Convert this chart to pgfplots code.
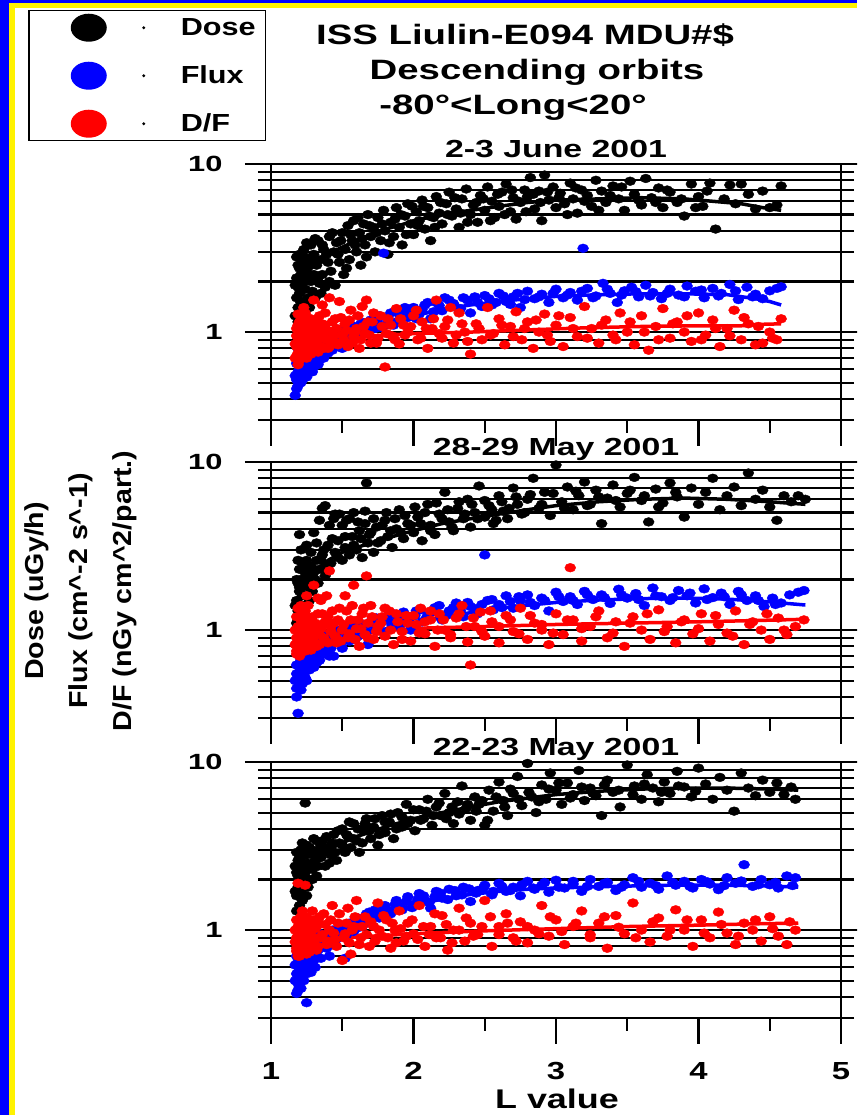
\documentclass[border=0pt]{standalone}
\usepackage{fontspec}
\usepackage{pgfplots}
\usepackage{pgfplotstable}
\pgfplotsset{compat=1.18}
\setmainfont{Liberation Sans}
\newfontfamily\fTitle{Liberation Sans}[FakeStretch=1.37]
\newfontfamily\fLeg{Liberation Sans}[FakeStretch=1.24]
\newfontfamily\fYtick{Liberation Sans}[FakeStretch=1.40]
\newfontfamily\fXtick{Liberation Sans}[FakeStretch=1.33]
\newfontfamily\fYlab{Liberation Sans}[FakeStretch=1.10]

% legend sample: large filled ellipse followed by a small dot
\newcommand\legblob[1]{%
  \path[draw=none] (-52pt,-17pt) rectangle (90pt,17pt);
  \fill[#1, draw=none] (0pt,0pt) ellipse [x radius=18pt, y radius=14pt];
  \fill[black, draw=none] (55pt,0pt) circle [radius=1.6pt];}

% ---------- 2-3 June 2001 ----------
\pgfplotstableread{
L v
1.17 1.25
1.18 1.6
1.18 2.1
1.19 1.4
1.19 1.85
1.19 2.5
1.20 1.2
1.20 1.7
1.20 2.9
1.21 2.2
1.21 1.5
1.22 1.95
1.22 2.6
1.23 1.35
1.23 3.1
1.24 1.8
1.24 2.35
1.25 1.55
1.25 2.75
1.26 2.05
1.27 1.4
1.27 2.5
1.28 3.3
1.29 1.75
1.30 2.2
1.30 2.9
1.31 1.6
1.32 2.5
1.33 3.5
1.34 1.95
1.35 2.7
1.36 2.2
1.37 3.1
1.38 1.85
1.40 2.6
1.41 3.7
1.42 2.3
1.44 3.0
1.45 1.9
1.46 3.4
1.48 2.6
1.50 3.9
1.51 2.2
1.52 3.1
1.54 4.3
1.55 2.7
1.57 3.5
1.58 4.6
1.60 3.0
1.62 3.9
1.63 2.5
1.65 4.4
1.66 3.3
1.68 5.0
1.70 3.7
1.72 4.2
1.73 3.0
1.75 4.8
1.77 3.5
1.79 5.3
1.80 4.0
1.82 2.9
1.84 4.5
1.86 3.7
1.88 5.5
1.90 4.2
1.92 3.3
1.94 4.9
1.96 5.8
1.98 4.4
2.00 3.8
2.02 5.2
2.04 4.6
2.06 6.1
2.08 4.1
2.10 5.5
2.12 3.5
2.14 4.8
2.16 6.4
2.18 5.1
2.20 4.4
2.23 5.8
2.25 6.8
2.27 4.9
2.30 5.4
2.32 4.2
2.34 6.2
2.37 7.1
2.40 5.0
2.42 5.7
2.45 4.5
2.47 6.5
2.50 5.3
2.52 7.3
2.55 6.0
2.57 4.8
2.60 5.6
2.62 6.8
2.65 7.6
2.68 5.2
2.70 6.3
2.72 4.7
2.75 5.9
2.78 7.0
2.80 6.4
2.82 8.3
2.85 5.4
2.88 6.9
2.90 4.6
2.92 8.6
2.95 6.1
2.98 7.3
3.00 5.5
3.03 6.7
3.06 5.8
3.10 7.7
3.12 6.2
3.15 5.1
3.18 7.0
3.22 6.5
3.25 5.6
3.28 8.0
3.32 6.9
3.35 5.9
3.40 7.4
3.44 6.2
3.48 5.3
3.52 7.9
3.55 6.6
3.60 5.7
3.63 8.2
3.67 6.3
3.72 7.2
3.75 5.5
3.80 6.8
3.85 5.9
3.90 4.9
3.95 7.6
4.00 6.4
4.03 5.6
4.08 7.7
4.12 4.1
4.18 6.2
4.22 7.5
4.26 5.8
4.30 7.6
4.35 6.6
4.40 5.4
4.45 6.9
4.50 5.5
4.55 5.7
4.58 7.4
1.17 1.9
1.18 2.8
1.19 1.15
1.20 2.4
1.21 1.3
1.22 2.9
1.23 2.2
1.24 1.25
1.25 3.4
1.26 1.6
1.28 2.0
1.29 2.7
1.31 3.6
1.33 2.1
1.35 1.7
1.36 3.3
1.39 2.9
1.41 2.0
1.43 3.9
1.47 2.9
1.49 3.5
1.53 2.4
1.56 3.8
1.59 3.3
1.61 4.8
1.64 3.6
1.67 2.8
1.69 4.3
1.74 3.9
1.78 4.4
1.83 3.4
1.87 4.7
1.91 5.0
1.95 3.8
1.99 5.6
2.03 4.3
2.07 5.6
2.11 4.9
2.15 4.2
2.19 5.9
2.24 5.0
2.29 6.3
2.33 5.1
2.38 4.5
2.44 5.9
2.49 6.2
2.54 4.6
2.59 6.6
2.64 5.0
2.69 7.0
2.74 6.0
2.79 5.2
2.84 6.6
2.89 5.9
2.94 6.8
3.02 6.3
3.08 5.0
3.14 7.2
3.20 6.0
3.30 5.3
3.38 6.5
3.46 7.3
3.58 6.1
3.70 5.9
3.78 7.0
3.88 6.2
3.98 5.5
4.06 6.9
}\juneDose

\pgfplotstableread{
L v
1.17 0.42
1.18 0.52
1.18 0.65
1.19 0.48
1.19 0.58
1.19 0.72
1.20 0.55
1.20 0.62
1.20 0.78
1.21 0.5
1.21 0.68
1.22 0.6
1.22 0.74
1.23 0.56
1.23 0.66
1.24 0.8
1.25 0.62
1.25 0.7
1.26 0.58
1.27 0.76
1.27 0.66
1.28 0.84
1.29 0.7
1.30 0.62
1.30 0.78
1.31 0.88
1.32 0.72
1.33 0.82
1.34 0.68
1.35 0.9
1.36 0.78
1.38 0.85
1.40 0.75
1.42 0.92
1.44 0.84
1.46 0.98
1.48 0.88
1.50 0.8
1.52 1.02
1.55 0.9
1.58 1.08
1.60 0.95
1.63 1.12
1.66 1.0
1.70 1.18
1.73 1.05
1.76 1.25
1.79 2.95
1.80 1.1
1.84 1.3
1.88 1.15
1.92 1.35
1.96 1.22
2.00 1.4
2.04 1.28
2.08 1.45
2.12 1.2
2.16 1.5
2.20 1.34
2.25 1.55
2.30 1.4
2.35 1.6
2.40 1.3
2.45 1.5
2.50 1.65
2.55 1.45
2.60 1.7
2.65 1.52
2.70 1.62
2.75 1.4
2.80 1.75
2.85 1.58
2.90 1.68
2.95 1.5
3.00 1.8
3.05 1.6
3.10 1.72
3.15 1.55
3.19 3.15
3.22 1.82
3.28 1.64
3.33 1.95
3.38 1.7
3.43 1.5
3.48 1.76
3.53 1.85
3.58 1.62
3.63 1.9
3.68 1.72
3.74 1.58
3.80 1.8
3.86 1.66
3.92 1.88
3.98 1.75
4.04 1.6
4.10 1.82
4.16 1.7
4.22 1.92
4.28 1.56
4.34 1.85
4.40 1.68
4.45 1.58
4.50 1.76
4.55 1.82
4.58 1.86
1.17 0.55
1.18 0.7
1.18 0.46
1.19 0.8
1.20 0.68
1.20 0.5
1.21 0.6
1.22 0.85
1.22 0.52
1.23 0.72
1.24 0.64
1.25 0.54
1.26 0.74
1.26 0.86
1.28 0.68
1.29 0.58
1.30 0.92
1.31 0.7
1.33 0.64
1.34 0.78
1.36 0.96
1.37 0.7
1.39 0.8
1.41 0.88
1.43 0.78
1.45 0.9
1.47 1.04
1.49 0.94
1.51 0.86
1.53 1.0
1.56 1.1
1.59 0.92
1.62 1.04
1.65 1.14
1.68 1.02
1.72 1.12
1.75 1.2
1.78 1.06
1.82 1.22
1.86 1.1
1.90 1.28
1.94 1.4
1.98 1.3
2.02 1.2
2.06 1.36
2.10 1.5
2.14 1.32
2.18 1.44
2.22 1.6
2.28 1.48
2.33 1.38
2.38 1.55
2.43 1.62
2.48 1.42
2.53 1.58
2.58 1.5
2.63 1.64
2.68 1.46
2.73 1.7
2.78 1.56
2.88 1.62
2.98 1.7
3.08 1.66
3.18 1.75
3.26 1.6
3.36 1.8
3.46 1.66
3.56 1.74
3.66 1.64
3.78 1.7
3.90 1.62
4.02 1.78
4.14 1.64
4.26 1.76
4.38 1.62
}\juneFlux

\pgfplotstableread{
L v
1.17 0.7
1.18 0.82
1.18 0.95
1.19 0.75
1.19 1.1
1.19 1.28
1.20 0.68
1.20 0.88
1.20 1.02
1.21 0.78
1.21 1.18
1.22 0.92
1.22 0.72
1.23 1.05
1.23 0.84
1.24 1.3
1.24 0.95
1.25 0.76
1.25 1.12
1.26 0.88
1.27 1.0
1.27 0.8
1.28 1.2
1.29 0.92
1.30 1.55
1.30 0.78
1.31 1.08
1.32 0.86
1.33 0.98
1.34 1.25
1.35 0.82
1.36 1.45
1.37 0.94
1.38 1.1
1.40 0.8
1.41 1.6
1.42 1.0
1.44 0.88
1.45 1.2
1.47 0.84
1.48 1.52
1.50 0.96
1.52 1.12
1.54 0.82
1.56 1.35
1.58 0.94
1.60 1.05
1.62 0.8
1.64 1.42
1.66 0.98
1.68 1.15
1.70 0.86
1.72 1.3
1.75 0.92
1.78 1.08
1.80 0.62
1.82 1.2
1.85 0.95
1.88 1.38
1.90 0.85
1.93 1.1
1.96 1.0
2.00 1.25
2.03 0.9
2.06 1.15
2.10 0.8
2.13 1.05
2.16 1.55
2.20 0.92
2.24 1.18
2.28 0.86
2.32 1.3
2.36 1.0
2.40 0.74
2.44 1.12
2.48 0.9
2.52 1.4
2.56 0.98
2.60 1.2
2.64 0.84
2.68 1.08
2.72 1.32
2.76 0.9
2.80 1.15
2.84 0.8
2.88 1.0
2.92 1.28
2.96 0.88
3.00 1.1
3.05 0.82
3.10 1.22
3.15 0.94
3.20 1.42
3.25 1.05
3.30 0.86
3.35 1.18
3.40 0.96
3.45 1.3
3.50 1.0
3.55 0.84
3.60 1.25
3.65 0.78
3.70 1.08
3.75 1.38
3.80 0.92
3.85 1.15
3.90 1.0
3.95 0.88
4.00 1.3
4.05 0.96
4.10 1.18
4.15 0.82
4.20 1.05
4.25 1.35
4.30 0.9
4.35 1.12
4.40 0.84
4.45 0.86
4.50 1.0
4.55 0.9
4.58 1.2
1.17 0.85
1.18 1.05
1.18 0.72
1.19 0.92
1.19 0.64
1.20 1.15
1.20 0.8
1.21 0.98
1.21 0.7
1.22 1.2
1.22 0.86
1.23 0.76
1.23 1.4
1.24 0.9
1.25 1.02
1.25 0.7
1.26 1.15
1.26 0.8
1.27 0.9
1.28 1.05
1.28 0.74
1.29 1.12
1.30 0.96
1.31 0.84
1.32 1.18
1.33 0.76
1.34 1.02
1.35 0.92
1.36 1.12
1.37 0.8
1.38 1.3
1.39 0.9
1.40 1.02
1.41 0.82
1.43 1.15
1.44 0.96
1.46 1.05
1.48 0.86
1.49 1.22
1.51 0.9
1.53 1.02
1.55 1.18
1.57 0.86
1.59 1.0
1.61 1.25
1.63 0.9
1.65 1.08
1.67 1.55
1.69 0.96
1.71 1.15
1.74 0.86
1.77 1.25
1.81 0.98
1.84 1.1
1.87 0.9
1.91 1.2
1.94 0.96
1.98 1.08
2.02 1.35
2.05 0.92
2.09 1.05
2.14 1.2
2.18 0.98
2.22 1.08
2.26 1.4
2.30 0.96
2.34 1.12
2.38 0.88
2.46 1.05
2.54 0.96
2.62 1.1
2.70 0.94
2.78 1.05
2.86 1.18
2.94 0.96
3.02 1.25
3.12 1.05
3.22 0.92
3.32 1.1
3.42 0.9
3.52 1.15
3.62 1.0
3.72 0.9
3.82 1.12
3.92 1.25
4.02 0.9
4.12 1.05
4.22 0.95
4.32 1.22
4.42 1.08
4.52 0.92
}\juneDF

% ---------- 28-29 May 2001 ----------
\pgfplotstableread{
L v
1.18 1.1
1.18 1.5
1.19 1.9
1.19 1.3
1.20 2.3
1.20 1.7
1.20 3.7
1.21 1.2
1.21 2.0
1.22 1.6
1.22 2.5
1.23 1.4
1.23 1.9
1.24 2.2
1.25 1.0
1.25 2.6
1.26 1.8
1.27 2.1
1.28 2.4
1.29 1.7
1.30 3.8
1.30 2.2
1.32 2.6
1.33 1.9
1.34 2.3
1.36 5.3
1.36 2.8
1.38 2.1
1.40 3.2
1.42 2.5
1.44 4.6
1.45 2.9
1.47 3.4
1.48 4.9
1.50 2.6
1.52 3.1
1.53 4.5
1.55 2.8
1.57 3.6
1.58 5.0
1.60 3.0
1.62 3.9
1.64 2.7
1.66 4.3
1.67 7.5
1.68 3.3
1.70 3.8
1.72 2.9
1.74 4.1
1.77 3.4
1.80 4.5
1.82 3.6
1.85 3.1
1.88 4.0
1.90 5.2
1.93 3.5
1.96 4.3
2.00 3.8
2.03 4.7
2.06 3.4
2.10 5.6
2.12 4.2
2.15 3.7
2.18 4.9
2.22 6.6
2.25 4.4
2.28 3.9
2.31 5.3
2.35 4.6
2.38 6.0
2.40 4.1
2.43 5.0
2.46 7.2
2.50 4.7
2.53 5.5
2.56 4.3
2.60 6.3
2.63 5.1
2.66 4.6
2.70 7.0
2.73 5.6
2.76 4.9
2.80 6.0
2.84 8.0
2.88 5.3
2.92 6.6
2.96 4.8
3.00 9.6
3.04 5.8
3.08 7.1
3.12 5.2
3.16 6.3
3.20 7.6
3.24 5.6
3.28 6.8
3.32 4.3
3.36 6.1
3.40 7.3
3.45 5.4
3.50 6.5
3.55 8.1
3.60 5.9
3.65 4.4
3.70 6.9
3.75 5.7
3.80 7.5
3.85 6.2
3.90 4.7
3.95 7.0
4.00 5.6
4.05 6.6
4.10 8.0
4.15 5.2
4.20 6.3
4.25 7.1
4.30 5.5
4.35 8.6
4.40 6.0
4.45 6.8
4.50 5.4
4.55 4.5
4.60 6.3
4.65 5.8
4.70 6.3
4.75 6.0
1.17 1.4
1.18 2.0
1.19 2.6
1.19 1.15
1.20 1.8
1.21 3.0
1.22 1.35
1.23 2.3
1.24 1.6
1.25 3.2
1.26 2.0
1.27 1.5
1.28 2.9
1.29 2.3
1.31 2.0
1.32 3.3
1.34 4.5
1.35 2.6
1.37 3.0
1.38 5.5
1.40 2.4
1.41 4.2
1.43 3.5
1.45 4.9
1.47 2.7
1.50 4.2
1.52 3.6
1.55 4.6
1.58 3.2
1.61 4.4
1.63 3.5
1.66 5.1
1.69 3.7
1.72 4.6
1.75 3.3
1.78 4.2
1.81 5.0
1.84 3.9
1.87 4.6
1.91 3.8
1.94 4.8
1.98 4.2
2.01 5.4
2.05 4.3
2.08 5.0
2.12 3.9
2.16 5.7
2.20 4.6
2.24 5.2
2.27 4.1
2.32 5.8
2.36 4.9
2.41 5.6
2.45 4.6
2.50 5.9
2.55 5.2
2.58 4.5
2.62 5.8
2.67 5.3
2.72 6.2
2.78 5.0
2.82 6.4
2.90 5.6
2.98 6.5
3.06 5.3
3.14 6.7
3.22 5.5
3.30 6.2
3.42 5.9
3.52 6.8
3.62 6.3
3.72 5.4
3.84 6.6
}\lateDose

\pgfplotstableread{
L v
1.18 0.45
1.18 0.55
1.19 0.32
1.19 0.62
1.20 0.5
1.20 0.7
1.21 0.58
1.21 0.44
1.22 0.66
1.22 0.78
1.23 0.54
1.23 0.72
1.24 0.6
1.25 0.85
1.25 0.5
1.26 0.68
1.27 0.76
1.28 0.62
1.29 0.9
1.30 0.7
1.31 0.8
1.32 0.64
1.33 0.88
1.35 0.74
1.37 0.95
1.39 0.8
1.41 0.7
1.43 0.92
1.45 0.84
1.48 1.0
1.50 0.78
1.53 0.94
1.56 1.05
1.59 0.88
1.62 1.1
1.65 0.96
1.68 0.82
1.71 1.08
1.74 1.18
1.78 0.98
1.82 1.14
1.86 1.25
1.90 1.05
1.94 1.2
1.98 1.0
2.02 1.3
2.06 1.12
2.10 1.22
2.15 1.36
2.20 1.15
2.25 1.3
2.30 1.45
2.35 1.2
2.40 1.38
2.45 1.25
2.50 2.8
2.52 1.5
2.56 1.32
2.60 1.42
2.65 1.6
2.70 1.35
2.75 1.5
2.80 1.62
2.85 1.4
2.90 1.55
2.95 1.3
3.00 1.68
3.05 1.48
3.10 1.58
3.15 1.42
3.20 1.7
3.26 1.52
3.32 1.62
3.38 1.44
3.44 1.75
3.50 1.55
3.56 1.65
3.62 1.4
3.68 1.78
3.74 1.58
3.80 1.5
3.86 1.72
3.92 1.6
3.98 1.45
4.04 1.76
4.10 1.56
4.16 1.66
4.22 1.42
4.28 1.7
4.34 1.5
4.40 1.6
4.46 1.38
4.52 1.55
4.58 1.45
4.64 1.62
4.70 1.68
4.74 1.72
1.17 0.5
1.18 0.62
1.18 0.4
1.19 0.52
1.19 0.72
1.20 0.6
1.20 0.46
1.21 0.66
1.22 0.55
1.22 0.48
1.23 0.64
1.24 0.72
1.24 0.52
1.25 0.6
1.26 0.78
1.27 0.58
1.28 0.7
1.29 0.66
1.30 0.6
1.31 0.72
1.33 0.78
1.34 0.66
1.36 0.84
1.38 0.72
1.40 0.88
1.42 0.78
1.44 0.7
1.46 0.9
1.49 0.84
1.52 0.98
1.55 0.86
1.58 1.0
1.61 0.92
1.64 1.04
1.67 0.98
1.70 1.12
1.74 1.02
1.77 1.1
1.81 1.2
1.85 1.06
1.89 1.16
1.93 1.28
1.97 1.12
2.01 1.22
2.05 1.32
2.09 1.18
2.13 1.28
2.18 1.4
2.23 1.22
2.28 1.36
2.33 1.3
2.38 1.46
2.43 1.34
2.48 1.42
2.55 1.52
2.62 1.36
2.68 1.48
2.74 1.58
2.82 1.46
2.92 1.5
3.02 1.58
3.12 1.5
3.22 1.62
3.34 1.56
3.46 1.62
3.58 1.52
3.70 1.6
3.82 1.56
3.94 1.66
4.06 1.52
4.18 1.58
4.30 1.62
4.42 1.5
4.54 1.42
}\lateFlux

\pgfplotstableread{
L v
1.18 0.75
1.18 0.9
1.19 1.05
1.19 0.8
1.20 1.2
1.20 0.7
1.21 0.95
1.21 1.4
1.22 0.85
1.22 1.1
1.23 0.78
1.23 1.0
1.24 1.3
1.25 0.88
1.25 1.6
1.26 1.02
1.27 0.82
1.28 1.15
1.29 0.92
1.30 1.85
1.31 1.0
1.32 0.8
1.33 1.25
1.34 0.94
1.35 1.5
1.36 1.08
1.38 0.86
1.40 1.2
1.41 2.25
1.42 0.98
1.44 1.1
1.46 0.84
1.48 1.35
1.50 1.0
1.52 1.6
1.54 0.9
1.56 1.15
1.58 1.85
1.60 1.02
1.62 0.8
1.64 1.25
1.66 0.94
1.67 2.1
1.68 1.1
1.70 1.4
1.72 0.88
1.75 1.05
1.78 1.2
1.80 0.92
1.83 1.3
1.86 0.82
1.89 1.12
1.92 0.98
1.95 1.22
1.98 0.86
2.02 1.08
2.05 1.35
2.08 0.95
2.12 1.15
2.15 0.8
2.18 1.25
2.22 1.0
2.26 0.9
2.30 1.18
2.34 1.4
2.38 0.85
2.40 0.62
2.43 1.05
2.47 1.28
2.50 0.92
2.55 1.12
2.60 0.84
2.65 1.22
2.70 0.98
2.75 1.35
2.80 0.88
2.85 1.1
2.90 1.0
2.95 0.82
3.00 1.25
3.05 0.94
3.10 2.35
3.12 1.15
3.18 0.86
3.24 1.05
3.30 1.3
3.36 0.9
3.42 1.12
3.48 0.8
3.54 1.2
3.60 1.0
3.66 0.88
3.72 1.32
3.78 1.05
3.84 0.84
3.90 1.15
3.96 0.95
4.02 1.25
4.08 0.86
4.14 1.08
4.20 0.96
4.26 1.3
4.32 0.82
4.38 1.12
4.44 1.0
4.50 0.88
4.56 1.18
4.62 0.94
4.68 1.05
4.74 1.15
1.17 0.82
1.17 1.0
1.18 1.2
1.18 0.72
1.19 0.9
1.19 1.35
1.20 0.8
1.20 1.0
1.21 0.76
1.21 1.15
1.22 0.92
1.22 1.25
1.23 0.85
1.23 1.1
1.24 0.75
1.24 0.98
1.25 1.2
1.26 0.84
1.26 1.4
1.27 0.95
1.28 0.76
1.28 1.05
1.29 1.2
1.30 0.86
1.31 1.1
1.32 0.96
1.33 1.55
1.34 0.82
1.35 1.02
1.36 1.25
1.37 0.9
1.38 1.12
1.39 1.6
1.40 0.84
1.42 1.05
1.43 1.3
1.45 0.92
1.47 1.15
1.49 0.86
1.51 1.08
1.53 1.3
1.55 0.95
1.57 1.4
1.59 0.88
1.61 1.15
1.63 1.02
1.65 1.35
1.68 0.9
1.71 1.2
1.74 0.98
1.77 1.1
1.80 1.35
1.84 1.0
1.88 1.25
1.92 0.88
1.96 1.1
2.00 1.22
2.04 0.96
2.08 1.12
2.12 1.3
2.17 1.0
2.21 1.15
2.26 0.94
2.32 1.25
2.37 1.05
2.42 1.18
2.48 0.98
2.54 1.3
2.60 1.05
2.68 1.15
2.74 0.95
2.82 1.22
2.90 1.08
2.98 0.96
3.08 1.15
3.18 1.02
3.28 1.2
3.40 0.96
3.52 1.1
3.64 1.25
3.76 0.98
3.88 1.12
4.00 1.02
4.12 1.22
4.24 0.92
4.36 1.08
4.48 1.25
4.60 1.0
}\lateDF

% ---------- 22-23 May 2001 ----------
\pgfplotstableread{
L v
1.18 1.6
1.18 2.2
1.19 1.8
1.19 2.6
1.20 1.4
1.20 2.0
1.21 3.0
1.21 1.7
1.22 2.4
1.23 1.9
1.23 2.8
1.24 5.7
1.24 2.2
1.25 1.6
1.25 3.2
1.26 2.5
1.27 2.0
1.28 2.9
1.29 2.3
1.30 3.5
1.31 2.6
1.32 2.1
1.33 3.0
1.35 2.7
1.36 3.4
1.38 2.4
1.40 3.1
1.42 2.8
1.44 3.7
1.46 2.6
1.48 3.3
1.50 4.0
1.52 2.9
1.54 3.6
1.56 3.1
1.58 4.3
1.60 3.4
1.62 2.9
1.65 3.9
1.67 4.6
1.70 3.5
1.72 4.1
1.75 3.2
1.78 4.8
1.80 3.8
1.83 4.4
1.86 3.5
1.89 5.0
1.92 4.1
1.95 5.6
1.98 4.5
2.01 3.9
2.04 5.2
2.07 4.6
2.10 6.0
2.13 4.2
2.16 5.4
2.19 4.8
2.22 6.5
2.25 5.0
2.28 4.3
2.31 5.8
2.34 7.2
2.37 5.3
2.40 4.5
2.43 6.2
2.46 5.6
2.50 4.2
2.53 6.8
2.56 5.1
2.60 7.6
2.63 5.9
2.66 4.8
2.70 6.5
2.73 8.2
2.76 5.5
2.80 9.8
2.83 6.2
2.86 5.0
2.90 7.3
2.93 6.0
2.96 8.6
3.00 6.8
3.04 5.6
3.08 7.5
3.12 6.4
3.16 8.9
3.20 5.9
3.24 7.0
3.28 6.3
3.32 4.8
3.36 7.8
3.40 6.6
3.45 5.4
3.50 9.6
3.55 7.2
3.60 6.0
3.64 8.4
3.68 7.0
3.72 5.8
3.76 7.6
3.80 6.5
3.85 8.8
3.90 7.1
3.95 6.2
4.00 9.2
4.05 7.4
4.10 6.0
4.15 8.1
4.20 6.8
4.25 5.1
4.30 8.6
4.35 7.0
4.40 6.3
4.45 7.8
4.50 6.6
4.55 7.5
4.60 6.4
4.65 7.1
4.68 6.0
1.17 2.4
1.17 1.7
1.18 2.9
1.18 1.3
1.19 2.1
1.20 2.7
1.20 1.6
1.21 2.3
1.22 3.3
1.22 1.5
1.23 2.5
1.24 2.0
1.25 2.8
1.26 1.8
1.27 3.1
1.28 2.4
1.29 2.0
1.30 2.8
1.32 3.4
1.33 2.4
1.35 3.2
1.37 2.9
1.39 3.6
1.41 2.5
1.43 3.3
1.45 2.9
1.47 3.9
1.50 3.2
1.53 3.7
1.55 4.4
1.58 3.5
1.61 4.0
1.64 3.3
1.66 4.3
1.69 3.9
1.73 4.6
1.76 3.7
1.80 4.4
1.84 4.9
1.88 4.0
1.92 4.7
1.96 4.3
2.00 5.2
2.05 4.5
2.09 5.1
2.14 4.8
2.18 5.7
2.23 4.6
2.27 5.4
2.32 4.9
2.38 5.6
2.44 5.1
2.48 5.9
2.52 4.5
2.58 6.2
2.64 5.4
2.68 6.9
2.74 6.0
2.81 6.6
2.88 5.8
2.95 6.9
3.02 7.5
3.10 6.1
3.18 7.1
3.26 6.5
3.34 7.3
3.44 6.8
3.54 6.4
3.62 7.4
3.74 6.6
3.86 7.2
3.98 6.7
}\earlyDose

\pgfplotstableread{
L v
1.18 0.42
1.18 0.55
1.19 0.48
1.19 0.65
1.20 0.52
1.20 0.72
1.21 0.6
1.21 0.45
1.22 0.68
1.22 0.8
1.23 0.56
1.24 0.74
1.25 0.37
1.25 0.62
1.26 0.7
1.27 0.82
1.28 0.64
1.29 0.9
1.30 0.72
1.31 0.6
1.32 0.85
1.33 0.76
1.35 0.95
1.37 0.8
1.39 0.9
1.41 0.7
1.43 1.0
1.45 0.86
1.48 1.05
1.50 0.92
1.52 0.68
1.55 1.1
1.58 0.98
1.61 1.18
1.64 1.05
1.67 1.25
1.70 1.1
1.73 1.32
1.76 1.18
1.80 1.4
1.84 1.25
1.88 1.5
1.92 1.32
1.96 1.58
2.00 1.42
2.04 1.65
2.08 1.5
2.12 1.35
2.16 1.7
2.20 1.55
2.25 1.75
2.30 1.6
2.35 1.8
2.40 1.48
2.45 1.72
2.50 1.85
2.55 1.62
2.60 1.9
2.65 1.7
2.70 1.8
2.75 1.6
2.80 1.95
2.85 1.75
2.90 1.85
2.95 1.68
3.00 1.98
3.06 1.78
3.12 1.88
3.18 1.7
3.24 2.0
3.30 1.82
3.36 1.92
3.42 1.72
3.48 1.86
3.54 2.05
3.60 1.8
3.66 1.9
3.72 1.75
3.78 2.1
3.84 1.85
3.90 1.95
3.96 1.78
4.02 2.0
4.08 1.88
4.14 1.74
4.20 2.05
4.26 1.9
4.32 2.45
4.38 1.82
4.44 2.0
4.50 1.86
4.56 1.78
4.62 2.1
4.68 2.05
1.17 0.5
1.17 0.62
1.18 0.7
1.19 0.56
1.19 0.44
1.20 0.62
1.21 0.52
1.21 0.75
1.22 0.58
1.23 0.68
1.23 0.5
1.24 0.6
1.25 0.78
1.25 0.55
1.26 0.64
1.27 0.72
1.28 0.56
1.29 0.76
1.30 0.66
1.31 0.82
1.32 0.7
1.34 0.8
1.35 0.68
1.37 0.9
1.39 0.78
1.41 0.92
1.43 0.82
1.45 0.96
1.47 0.9
1.50 1.02
1.53 0.94
1.56 1.06
1.59 1.14
1.62 1.04
1.65 1.16
1.69 1.28
1.72 1.2
1.75 1.26
1.79 1.34
1.83 1.3
1.87 1.42
1.91 1.38
1.95 1.48
1.99 1.36
2.03 1.52
2.07 1.6
2.11 1.46
2.15 1.58
2.19 1.66
2.24 1.52
2.29 1.72
2.34 1.62
2.39 1.76
2.44 1.66
2.49 1.78
2.56 1.7
2.62 1.82
2.68 1.72
2.76 1.86
2.84 1.78
2.92 1.92
3.02 1.8
3.12 1.95
3.22 1.82
3.34 1.9
3.46 1.8
3.58 1.95
3.70 1.84
3.82 1.92
3.94 1.82
4.06 1.94
4.18 1.84
4.30 1.96
4.42 1.86
4.54 1.92
4.66 1.84
}\earlyFlux

\pgfplotstableread{
L v
1.18 0.75
1.18 0.9
1.19 1.05
1.19 1.9
1.20 0.82
1.20 0.7
1.21 0.95
1.21 1.2
1.22 0.78
1.22 1.0
1.23 0.88
1.24 1.15
1.24 1.85
1.25 0.72
1.25 0.96
1.26 1.08
1.27 0.8
1.28 0.92
1.29 1.3
1.30 0.86
1.31 1.02
1.32 0.76
1.33 1.12
1.35 0.9
1.37 1.25
1.39 0.82
1.41 1.0
1.43 1.4
1.45 0.88
1.47 1.1
1.50 0.66
1.52 0.95
1.54 1.35
1.56 0.72
1.58 1.05
1.60 1.5
1.63 0.9
1.66 1.2
1.69 0.8
1.72 1.05
1.75 1.45
1.78 0.92
1.81 1.15
1.84 0.78
1.87 1.0
1.90 1.3
1.93 0.86
1.96 1.1
2.00 0.95
2.04 1.4
2.08 0.8
2.12 1.05
2.16 0.9
2.20 1.22
2.24 0.76
2.28 1.0
2.32 1.35
2.36 0.86
2.40 1.1
2.45 0.94
2.50 1.5
2.55 0.8
2.60 1.05
2.65 1.25
2.70 0.9
2.75 1.12
2.80 0.84
2.85 1.0
2.90 1.4
2.95 0.92
3.00 1.15
3.06 0.82
3.12 1.05
3.18 1.3
3.24 0.9
3.30 1.1
3.36 0.78
3.42 1.22
3.48 0.95
3.54 1.45
3.60 1.0
3.66 0.85
3.72 1.18
3.78 0.92
3.84 1.32
3.90 1.0
3.96 0.8
4.02 1.15
4.08 0.9
4.14 1.28
4.20 0.96
4.26 0.82
4.32 1.1
4.38 1.0
4.44 0.86
4.50 1.2
4.56 0.92
4.62 0.82
4.68 1.0
1.17 0.85
1.17 1.0
1.18 0.78
1.18 1.15
1.19 0.7
1.19 0.92
1.20 1.05
1.20 0.86
1.21 0.74
1.21 1.1
1.22 0.9
1.22 1.3
1.23 0.76
1.23 1.02
1.24 0.84
1.25 1.2
1.25 0.8
1.26 0.94
1.27 1.1
1.27 0.74
1.28 1.0
1.29 0.82
1.30 1.15
1.31 0.9
1.32 1.05
1.33 0.8
1.34 1.2
1.36 0.94
1.38 1.08
1.40 0.86
1.42 1.15
1.44 0.96
1.46 0.8
1.48 1.25
1.51 0.9
1.53 1.1
1.55 0.84
1.57 1.0
1.59 1.2
1.62 0.82
1.64 1.05
1.67 0.94
1.70 1.12
1.73 0.86
1.76 1.0
1.79 1.22
1.82 0.9
1.85 1.1
1.88 0.84
1.91 1.02
1.95 0.92
1.99 1.15
2.03 0.88
2.07 1.05
2.11 0.94
2.15 1.25
2.19 0.9
2.23 1.08
2.27 0.84
2.32 1.0
2.37 1.18
2.42 0.92
2.48 1.05
2.54 1.2
2.60 0.94
2.66 1.1
2.72 0.86
2.80 1.05
2.88 0.95
2.96 1.2
3.04 0.98
3.14 1.1
3.24 0.94
3.34 1.2
3.44 1.04
3.56 0.9
3.68 1.12
3.80 1.0
3.92 1.15
4.04 0.96
4.16 1.08
4.28 0.92
4.40 1.15
4.52 1.02
4.64 1.12
}\earlyDF

\begin{document}
\begin{tikzpicture}
\path[use as bounding box] (0pt,0pt) rectangle (857pt,1115pt);
\clip (0pt,0pt) rectangle (857pt,1115pt);
\fill[white] (0pt,0pt) rectangle (857pt,1115pt);
% frame strips
\fill[blue] (0pt,1112pt) rectangle (857pt,1115pt);
\fill[yellow] (9pt,1107pt) rectangle (857pt,1112pt);
\fill[blue] (0pt,0pt) rectangle (9pt,1115pt);
\fill[yellow] (9pt,0pt) rectangle (15pt,1112pt);

% ----- top panel -----
\begin{axis}[at={(271pt,695pt)}, anchor=south west,
  scale only axis, width=570pt, height=256pt,
  xmin=1, xmax=5, ymode=log, ymin=0.3, ymax=10,
  xtick={1,2,3,4,5}, minor xtick={1.5,2.5,3.5,4.5},
  ytick={1,10}, yticklabels={1,10},
  minor ytick={0.3,0.4,0.5,0.6,0.7,0.8,0.9,2,3,4,5,6,7,8,9},
  ymajorgrids, yminorgrids,
  major grid style={black, line width=2.2pt},
  minor grid style={black, line width=2.2pt},
  tick align=outside, xtick pos=left, ytick pos=both,
  major tick length=26pt, minor tick length=13pt,
  tick style={black, line width=2.2pt},
  axis line style={black, line width=2.6pt},
  yticklabel style={font=\fYtick\bfseries\fontsize{22}{24}\selectfont, xshift=-19pt},
  xticklabels={},
  title={2-3 June 2001},
  title style={font=\fTitle\bfseries\fontsize{24.7}{26}\selectfont, anchor=base, yshift=0pt},
  legend style={at={(-0.4263,1.6016)}, anchor=north west,
    draw=black, line width=1.5pt, fill=white,
    inner xsep=8pt, inner ysep=0pt, row sep=14pt,
    font=\fLeg\bfseries\fontsize{24.7}{26}\selectfont},
  legend cell align=left]
\addplot[forget plot, only marks, mark=*, mark size=4.4pt, mark options={xscale=1.25}, black] table[x=L, y=v] {\juneDose};
\addplot[forget plot, no marks, line width=3.5pt, black] coordinates {(1.18,1.8)(1.25,2.2)(1.3,2.5)(1.4,2.9)(1.5,3.2)(1.6,3.5)(1.7,3.8)(1.8,4.1)(1.9,4.3)(2.0,4.6)(2.2,5.0)(2.4,5.3)(2.6,5.6)(2.8,5.9)(3.0,6.1)(3.3,6.2)(3.6,6.3)(3.9,6.2)(4.1,6.0)(4.3,5.8)(4.45,5.5)(4.58,5.3)};
\addplot[forget plot, only marks, mark=*, mark size=4.4pt, mark options={xscale=1.25}, blue] table[x=L, y=v] {\juneFlux};
\addplot[forget plot, no marks, line width=3.5pt, blue] coordinates {(1.18,0.5)(1.25,0.62)(1.3,0.72)(1.4,0.84)(1.5,0.93)(1.6,1.0)(1.7,1.07)(1.8,1.13)(2.0,1.25)(2.2,1.36)(2.4,1.45)(2.6,1.52)(2.8,1.58)(3.0,1.63)(3.3,1.67)(3.6,1.69)(3.9,1.69)(4.2,1.67)(4.4,1.58)(4.5,1.52)(4.58,1.45)};
\addplot[forget plot, only marks, mark=*, mark size=4.4pt, mark options={xscale=1.25}, red] table[x=L, y=v] {\juneDF};
\addplot[forget plot, no marks, line width=3.5pt, red] coordinates {(1.18,0.86)(1.3,0.88)(1.5,0.92)(1.7,0.95)(2.0,0.98)(2.4,1.0)(2.8,1.03)(3.2,1.06)(3.6,1.08)(4.0,1.09)(4.3,1.09)(4.4,1.11)(4.58,1.12)};
\addlegendimage{legend image code/.code={\legblob{black}}}
\addlegendentry{Dose}
\addlegendimage{legend image code/.code={\legblob{blue}}}
\addlegendentry{Flux}
\addlegendimage{legend image code/.code={\legblob{red}}}
\addlegendentry{D/F}
\end{axis}

% ----- middle panel -----
\begin{axis}[at={(271pt,397pt)}, anchor=south west,
  scale only axis, width=570pt, height=256pt,
  xmin=1, xmax=5, ymode=log, ymin=0.3, ymax=10,
  xtick={1,2,3,4,5}, minor xtick={1.5,2.5,3.5,4.5},
  ytick={1,10}, yticklabels={1,10},
  minor ytick={0.3,0.4,0.5,0.6,0.7,0.8,0.9,2,3,4,5,6,7,8,9},
  ymajorgrids, yminorgrids,
  major grid style={black, line width=2.2pt},
  minor grid style={black, line width=2.2pt},
  tick align=outside, xtick pos=left, ytick pos=both,
  major tick length=26pt, minor tick length=13pt,
  tick style={black, line width=2.2pt},
  axis line style={black, line width=2.6pt},
  yticklabel style={font=\fYtick\bfseries\fontsize{22}{24}\selectfont, xshift=-19pt},
  xticklabels={},
  title={28-29 May 2001},
  title style={font=\fTitle\bfseries\fontsize{24.7}{26}\selectfont, anchor=base, yshift=0pt}]
\addplot[forget plot, only marks, mark=*, mark size=4.4pt, mark options={xscale=1.25}, black] table[x=L, y=v] {\lateDose};
\addplot[forget plot, no marks, line width=3.5pt, black] coordinates {(1.18,1.5)(1.25,1.9)(1.3,2.2)(1.4,2.6)(1.5,2.9)(1.6,3.1)(1.8,3.5)(2.0,3.9)(2.2,4.3)(2.4,4.6)(2.6,4.9)(2.8,5.2)(3.0,5.5)(3.3,5.8)(3.6,6.0)(3.9,6.1)(4.2,6.0)(4.5,5.8)(4.75,5.6)};
\addplot[forget plot, only marks, mark=*, mark size=4.4pt, mark options={xscale=1.25}, blue] table[x=L, y=v] {\lateFlux};
\addplot[forget plot, no marks, line width=3.5pt, blue] coordinates {(1.18,0.48)(1.25,0.6)(1.3,0.68)(1.4,0.78)(1.5,0.86)(1.7,0.97)(1.9,1.06)(2.1,1.15)(2.4,1.27)(2.7,1.38)(3.0,1.46)(3.3,1.51)(3.6,1.54)(3.9,1.55)(4.2,1.53)(4.5,1.47)(4.75,1.41)};
\addplot[forget plot, only marks, mark=*, mark size=4.4pt, mark options={xscale=1.25}, red] table[x=L, y=v] {\lateDF};
\addplot[forget plot, no marks, line width=3.5pt, red] coordinates {(1.18,0.88)(1.3,0.92)(1.5,0.96)(1.8,1.0)(2.1,1.03)(2.5,1.05)(3.0,1.08)(3.5,1.1)(4.0,1.12)(4.4,1.14)(4.75,1.16)};
\end{axis}

% ----- bottom panel -----
\begin{axis}[at={(271pt,97pt)}, anchor=south west,
  scale only axis, width=570pt, height=256pt,
  xmin=1, xmax=5, ymode=log, ymin=0.3, ymax=10,
  xtick={1,2,3,4,5}, minor xtick={1.5,2.5,3.5,4.5},
  ytick={1,10}, yticklabels={1,10},
  minor ytick={0.3,0.4,0.5,0.6,0.7,0.8,0.9,2,3,4,5,6,7,8,9},
  ymajorgrids, yminorgrids,
  major grid style={black, line width=2.2pt},
  minor grid style={black, line width=2.2pt},
  tick align=outside, xtick pos=left, ytick pos=both,
  major tick length=26pt, minor tick length=13pt,
  tick style={black, line width=2.2pt},
  axis line style={black, line width=2.6pt},
  yticklabel style={font=\fYtick\bfseries\fontsize{22}{24}\selectfont, xshift=-19pt},
  xticklabels={1,2,3,4,5},
  xticklabel style={font=\fXtick\bfseries\fontsize{24.7}{26}\selectfont, yshift=-15pt},
  title={22-23 May 2001},
  title style={font=\fTitle\bfseries\fontsize{24.7}{26}\selectfont, anchor=base, yshift=0pt}]
\addplot[forget plot, only marks, mark=*, mark size=4.4pt, mark options={xscale=1.25}, black] table[x=L, y=v] {\earlyDose};
\addplot[forget plot, no marks, line width=3.5pt, black] coordinates {(1.18,2.0)(1.25,2.4)(1.3,2.6)(1.4,3.0)(1.5,3.3)(1.6,3.6)(1.8,4.1)(2.0,4.6)(2.2,5.0)(2.4,5.4)(2.6,5.8)(2.8,6.1)(3.0,6.4)(3.3,6.7)(3.6,6.9)(3.9,7.0)(4.2,7.0)(4.5,6.9)(4.7,6.8)};
\addplot[forget plot, only marks, mark=*, mark size=4.4pt, mark options={xscale=1.25}, blue] table[x=L, y=v] {\earlyFlux};
\addplot[forget plot, no marks, line width=3.5pt, blue] coordinates {(1.18,0.5)(1.25,0.62)(1.3,0.7)(1.4,0.84)(1.5,0.96)(1.6,1.06)(1.7,1.15)(1.8,1.24)(2.0,1.4)(2.2,1.53)(2.4,1.63)(2.6,1.7)(2.8,1.75)(3.0,1.78)(3.4,1.82)(3.8,1.85)(4.2,1.85)(4.5,1.83)(4.7,1.8)};
\addplot[forget plot, only marks, mark=*, mark size=4.4pt, mark options={xscale=1.25}, red] table[x=L, y=v] {\earlyDF};
\addplot[forget plot, no marks, line width=3.5pt, red] coordinates {(1.18,0.85)(1.3,0.87)(1.5,0.9)(1.8,0.93)(2.1,0.96)(2.5,0.99)(3.0,1.02)(3.5,1.05)(4.0,1.07)(4.4,1.09)(4.7,1.1)};
\end{axis}

% headings and axis labels
\node[anchor=base, font=\fTitle\bfseries\fontsize{28}{30}\selectfont] at (525pt,1070pt) {ISS Liulin-E094 MDU\#\$};
\node[anchor=base, font=\fTitle\bfseries\fontsize{28}{30}\selectfont] at (537pt,1035pt) {Descending orbits};
\node[anchor=base, font=\fTitle\bfseries\fontsize{28}{30}\selectfont] at (513pt,1000pt) {-80°<Long<20°};
\node[anchor=base, font=\fXtick\bfseries\fontsize{27}{29}\selectfont] at (557pt,6pt) {L value};
\node[rotate=90, anchor=base, font=\fYlab\bfseries\fontsize{26}{28}\selectfont] at (43pt,524pt) {Dose (uGy/h)};
\node[rotate=90, anchor=base, font=\fYlab\bfseries\fontsize{26}{28}\selectfont] at (87pt,524pt) {Flux (cm\textasciicircum-2 s\textasciicircum-1)};
\node[rotate=90, anchor=base, font=\fYlab\bfseries\fontsize{26}{28}\selectfont] at (131pt,524pt) {D/F (nGy cm\textasciicircum 2/part.)};
\end{tikzpicture}
\end{document}
